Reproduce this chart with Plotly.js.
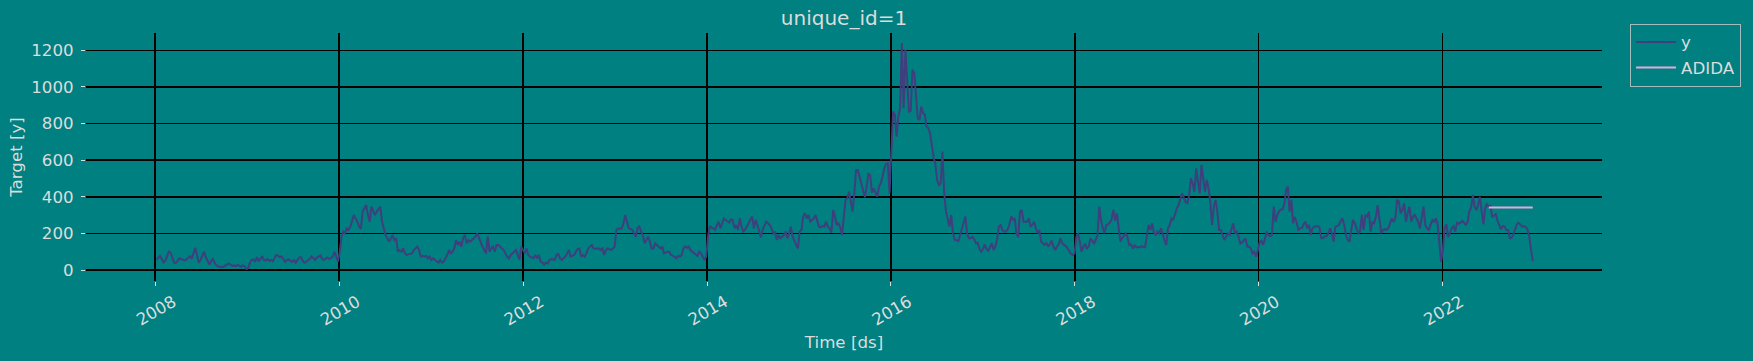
<!DOCTYPE html>
<html>
<head>
<meta charset="utf-8">
<script src="https://cdn.plot.ly/plotly-3.0.1.min.js"></script>
<style>
  html, body { margin: 0; padding: 0; background: #008080; }
  #chart { width: 1753px; height: 361px; }
</style>
</head>
<body>
<div id="chart"></div>
<script>
const startDate = '2008-01-06';
const y2008 = [55,65,77,60,42,50,80,100,95,70,40,38,55,64,60,55,52,58,65,75,62,90,122,80,40,55,75,100,70,45,30,50,60,40,25,20,16,15,18,25,28,35,30,22,25,20,28,22,18,25,20,5];
const y2009 = [8,40,55,58,45,70,50,60,75,55,52,60,50,55,48,65,82,78,70,75,60,45,55,58,50,45,55,40,55,68,70,50,40,45,55,60,75,65,55,68,72,80,60,55,62,68,60,65,72,100,65,45];
const y2010 = [100,182,210,200,228,219,237,264,300,282,264,237,225,320,337,355,300,264,346,320,300,320,337,346,264,219,191,173,155,173,191,164,173,100,109,100,118,91,82,87,87,91,109,118,128,109,73,77,73,77,64,73];
const y2011 = [55,64,55,46,40,55,40,46,64,82,109,91,100,118,164,137,155,128,173,191,146,164,155,164,173,182,200,173,155,128,109,91,182,100,118,128,100,137,137,128,118,109,91,73,64,82,91,100,109,82,55,128];
const y2012 = [109,91,118,82,73,69,64,82,64,82,46,40,30,40,36,55,60,58,55,82,87,64,55,64,73,91,109,73,77,82,100,115,118,73,82,73,91,118,128,137,118,115,118,118,109,118,82,109,118,115,109,118,128];
const y2013 = [219,228,225,228,255,300,264,228,225,219,200,182,228,237,210,191,146,164,182,155,118,118,146,137,128,118,128,91,95,100,100,82,77,73,64,77,73,82,118,128,121,128,109,100,91,82,77,100,91,73,55,73];
const y2014 = [182,241,230,228,219,246,264,228,255,282,273,264,259,276,273,228,246,219,282,237,210,219,237,255,273,292,228,273,246,210,179,219,246,264,255,246,228,200,210,164,191,173,182,191,210,173,200,237,182,155,137,118];
const y2015 = [210,219,292,310,282,301,264,273,282,300,264,237,233,241,237,264,237,228,204,328,292,246,255,233,191,273,383,392,428,374,319,419,547,547,510,465,428,397,456,525,519,423,446,419,401,456,474,510,556,580,583,419];
const y2016 = [700,866,850,729,840,884,1240,884,1203,1060,866,870,1094,1076,920,829,820,893,857,848,784,775,747,670,615,580,490,465,474,647,419,320,270,237,300,200,164,165,155,190,228,250,292,200,173,173,182,170,146,150,115,100];
const y2017 = [115,140,115,105,125,146,109,128,164,237,246,219,210,210,222,250,292,275,283,200,180,319,328,264,264,264,282,237,246,264,228,200,219,155,146,137,146,131,140,160,128,109,128,140,173,146,137,131,119,100,88,82,90];
const y2018 = [182,200,150,100,128,140,118,128,173,160,146,165,190,346,270,230,200,246,250,260,275,328,270,310,219,155,175,191,200,180,137,140,118,135,125,125,125,130,125,125,200,246,219,255,205,190,210,200,228,190,164,137];
const y2019 = [228,246,282,275,310,337,355,383,419,395,370,365,410,501,474,428,556,483,419,574,500,428,492,446,374,246,346,383,319,219,219,190,164,182,200,191,219,255,200,210,182,146,150,164,173,128,128,118,91,100,73,109];
const y2020 = [150,160,137,170,210,190,185,191,346,264,300,320,330,330,360,437,456,319,383,255,290,260,219,228,230,250,264,228,246,191,228,237,240,240,232,173,173,185,185,200,228,200,155,237,240,246,270,282,246,191,164,155];
const y2021 = [219,273,255,228,200,210,301,219,300,292,319,210,264,255,292,355,290,200,219,222,219,228,255,282,264,282,383,374,310,328,364,264,310,346,264,292,301,282,264,228,282,346,246,228,219,246,273,264,282,250,150,45];
const y2022 = [109,230,250,180,200,230,240,210,262,252,260,268,258,248,262,320,340,410,345,328,355,400,320,250,340,360,346,350,290,300,305,270,250,222,240,237,219,219,173,175,195,225,250,258,250,237,240,235,220,185,110,50];

// ADIDA forecast (flat), weekly from forecast start
const adidaStart = '2022-07-03';
const adida = [341,341,341,341,341,341,341,341,341,341,341,341,341,341,341,341,341,341,341,341,341,341,341,341,341,341];

const yAll = [].concat(y2008, y2009, y2010, y2011, y2012, y2013, y2014, y2015,
                       y2016, y2017, y2018, y2019, y2020, y2021, y2022);

const WEEK = 7 * 24 * 3600 * 1000;
const txt = '#dcdcdc';
const fam = 'DejaVu Sans, Liberation Sans, sans-serif';
const fs = 16.67;

const traces = [
  {
    type: 'scatter', mode: 'lines', name: 'y',
    x0: startDate, dx: WEEK, y: yAll,
    line: { color: '#3e3f7c', width: 2 },
    legendgroup: 'a'
  },
  {
    type: 'scatter', mode: 'lines', name: 'ADIDA',
    x0: adidaStart, dx: WEEK, y: adida,
    line: { color: '#e8a6da', width: 2 },
    legendgroup: 'b'
  }
];

const layout = {
  width: 1753, height: 361,
  paper_bgcolor: '#008080', plot_bgcolor: '#008080',
  font: { family: fam, size: fs, color: txt },
  margin: { l: 86, r: 151, t: 33, b: 80, pad: 0 },
  title: {
    text: 'unique_id=1',
    font: { family: fam, size: 20, color: txt },
    xref: 'paper', x: 0.5, xanchor: 'center',
    yref: 'container', y: 0.951, yanchor: 'middle'
  },
  showlegend: true,
  legend: {
    x: 1.0185, xanchor: 'left', y: 1.038, yanchor: 'top',
    bgcolor: 'rgba(0,0,0,0)',
    bordercolor: 'rgba(204,204,204,0.8)', borderwidth: 1,
    font: { family: fam, size: fs, color: txt },
    traceorder: 'grouped', tracegroupgap: 1,
    itemwidth: 40,
    entrywidth: 100, entrywidthmode: 'pixels'
  },
  xaxis: {
    type: 'date',
    range: ['2007-04-01', '2023-09-26'],
    tick0: '2008-01-01', dtick: 'M24', tickformat: '%Y',
    tickangle: -30,
    ticks: 'outside', ticklen: 4, tickwidth: 1, tickcolor: txt,
    ticklabelshift: 18,
    tickfont: { family: fam, size: fs, color: txt },
    showgrid: true, gridcolor: '#000000', gridwidth: 1.6,
    zeroline: false, showline: false,
    title: { text: 'Time [ds]', font: { family: fam, size: fs, color: txt }, standoff: 7 }
  },
  yaxis: {
    range: [-60, 1295],
    tick0: 0, dtick: 200,
    ticks: 'outside', ticklen: 4, tickwidth: 1, tickcolor: txt,
    ticklabelstandoff: 4,
    tickfont: { family: fam, size: fs, color: txt },
    showgrid: true, gridcolor: '#000000', gridwidth: 1.6,
    zeroline: false, showline: false,
    title: { text: 'Target [y]', font: { family: fam, size: fs, color: txt }, standoff: 4 }
  }
};

Plotly.newPlot('chart', traces, layout, { displayModeBar: false, staticPlot: true });
</script>
</body>
</html>
